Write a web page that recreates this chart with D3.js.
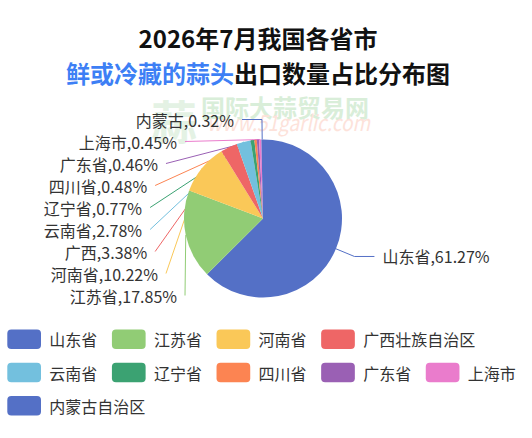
<!DOCTYPE html>
<html><head><meta charset="utf-8">
<script src="https://cdn.jsdelivr.net/npm/d3@7/dist/d3.min.js"></script>
<style>
html,body{margin:0;padding:0;background:#fff;}
svg{display:block;font-family:"Noto Sans CJK SC","Noto Sans",sans-serif;}
</style></head>
<body>
<svg id="chart" width="532" height="438"></svg>
<script>
// ---- data ----
const labelNames = ['山东省','江苏省','河南省','广西','云南省','辽宁省','四川省','广东省','上海市','内蒙古'];
const legendNames = ['山东省','江苏省','河南省','广西壮族自治区','云南省','辽宁省','四川省','广东省','上海市','内蒙古自治区'];
const shares = [61.27,17.85,10.22,3.38,2.78,0.77,0.48,0.46,0.45,0.32];
const colors = ['#5470c6','#91cc75','#fac858','#ee6666','#73c0de','#3ba272','#fc8452','#9a60b4','#ea7ccc','#5470c6'];
const titleLine1 = '2026年7月我国各省市';
const titleBlue = '鲜或冷藏的蒜头';
const titleRest = '出口数量占比分布图';

// ---- layout ----
const svg = d3.select('#chart');
const cx = 263, cy = 218.5, r = 79;
const len1 = 20, len2 = 20, labelGap = 8, lineH = 22;
const ellA = 113.5, ellB = 106;

// watermark
const wm = svg.append('g');
wm.append('text').attr('x', 151).attr('y', 119).attr('dominant-baseline', 'central')
  .attr('font-size', 46).attr('font-weight', 700)
  .attr('fill', '#e4f2e4').text('蒜');
wm.append('text').attr('x', 201).attr('y', 106).attr('dominant-baseline', 'central')
  .attr('font-size', 24).attr('font-weight', 700).attr('fill', '#d9eed9').text('国际大蒜贸易网');
wm.append('text').attr('x', 207).attr('y', 121).attr('dominant-baseline', 'central')
  .attr('font-size', 22).attr('font-style', 'italic').attr('fill', '#fde2da')
  .attr('textLength', 163).attr('lengthAdjust', 'spacingAndGlyphs').text('www.51garlic.com');

// title
svg.append('text').attr('x', 258).attr('y', 37).attr('text-anchor', 'middle').attr('dominant-baseline', 'central')
  .attr('font-size', 24).attr('font-weight', 700).attr('fill', '#111').text(titleLine1);
const t2 = svg.append('text').attr('x', 258).attr('y', 72).attr('text-anchor', 'middle').attr('dominant-baseline', 'central')
  .attr('font-size', 24).attr('font-weight', 700);
t2.append('tspan').attr('fill', '#3d7ff5').text(titleBlue);
t2.append('tspan').attr('fill', '#111').text(titleRest);

// pie
const pie = d3.pie().sort(null).value(d => d)(shares);
const arc = d3.arc().innerRadius(0).outerRadius(r);

const items = pie.map((a, i) => {
  const m = (a.startAngle + a.endAngle) / 2;
  const s = Math.sin(m), c = Math.cos(m);
  return {
    i, side: s < 0 ? -1 : 1,
    E: [cx + r * s, cy - r * c],
    P1: [cx + (r + len1) * s, cy - (r + len1) * c],
    y0: cy - (r + len1) * c
  };
});
[-1, 1].forEach(side => {
  const list = items.filter(d => d.side === side).sort((a, b) => a.y0 - b.y0);
  list.forEach((d, k) => {
    d.y = k === 0 ? d.y0 : Math.max(d.y0, list[k - 1].y + lineH);
    d.shifted = d.y - d.y0 > 0.5;
  });
});
items.forEach(d => {
  if (!d.shifted) {
    const P2 = [d.P1[0] + d.side * len2, d.P1[1]];
    d.pts = [d.E, d.P1, P2];
    d.tx = P2[0] + d.side * labelGap;
  } else {
    const dy = d.y - cy;
    const px = cx + d.side * ellA * Math.sqrt(Math.max(0, 1 - dy * dy / (ellB * ellB)));
    d.pts = [d.E, [px, d.y]];
    d.tx = px + d.side * labelGap;
  }
  d.ty = d.y;
});

// label lines (under slices)
svg.append('g').selectAll('path').data(items).join('path')
  .attr('d', d => d3.line()(d.pts))
  .attr('fill', 'none').attr('stroke', d => colors[d.i]).attr('stroke-width', 1);

svg.append('g').attr('transform', `translate(${cx},${cy})`)
  .selectAll('path').data(pie).join('path')
  .attr('d', arc).attr('fill', (d, i) => colors[i]);

svg.append('g').selectAll('text').data(items).join('text')
  .attr('x', d => d.tx).attr('y', d => d.ty)
  .attr('text-anchor', d => d.side < 0 ? 'end' : 'start')
  .attr('dominant-baseline', 'central')
  .attr('font-size', 16).attr('fill', '#333')
  .text(d => labelNames[d.i] + ',' + shares[d.i].toFixed(2) + '%');

// legend
const lg = svg.append('g');
const iconW = 33.7, iconH = 19.5, iconGap = 8.3, itemGap = 14.6;
const lgLeft = 7.3, lgMaxRight = 522, lgTop = 339.3, lgRowH = 33.2;
let lx = lgLeft, row = 0;
legendNames.forEach((name, i) => {
  const g = lg.append('g');
  const txt = g.append('text').attr('font-size', 16).attr('fill', '#333')
    .attr('dominant-baseline', 'central').text(name);
  const tw = txt.node().getComputedTextLength();
  const w = iconW + iconGap + tw;
  if (lx > lgLeft && lx + w > lgMaxRight) { lx = lgLeft; row++; }
  const y = lgTop + row * lgRowH;
  g.insert('rect', 'text').attr('x', lx).attr('y', y - iconH / 2).attr('width', iconW).attr('height', iconH)
    .attr('rx', 4).attr('fill', colors[i]);
  txt.attr('x', lx + iconW + iconGap).attr('y', y);
  lx += w + itemGap;
});
</script>
</body></html>
